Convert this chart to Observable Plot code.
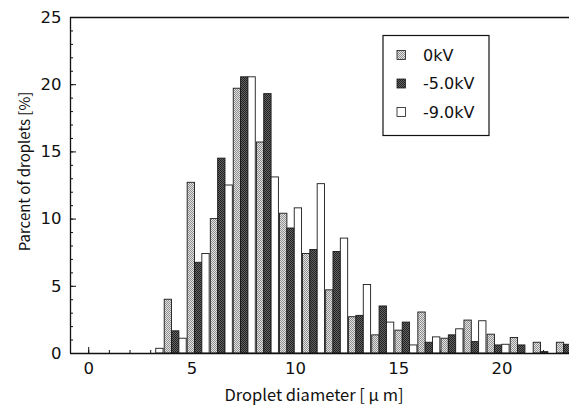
<!DOCTYPE html>
<html><head><meta charset="utf-8">
<script src="https://cdn.jsdelivr.net/npm/d3@7"></script>
<script src="https://cdn.jsdelivr.net/npm/@observablehq/plot@0.6"></script>
<style>
body{margin:0;background:#fff;}
#chart{width:569px;height:405px;}
svg{display:block;}
</style></head><body><div id="chart"></div>
<script>
// Bin centres (droplet diameter, µm) and percentages per applied voltage
const diameters = [3.09, 4.21, 5.32, 6.44, 7.55, 8.67, 9.79, 10.90, 12.02, 13.13, 14.25, 15.37, 16.48, 17.60, 18.71, 19.83, 20.95, 22.06, 23.18];
const kv0 = [0, 4.0, 12.7, 10.0, 19.7, 15.7, 10.4, 7.4, 4.7, 2.7, 1.35, 1.7, 3.05, 1.1, 2.45, 1.4, 1.15, 0.8, 0.8];
const kv5 = [0, 1.65, 6.75, 14.5, 20.55, 19.3, 9.3, 7.7, 7.55, 2.8, 3.5, 2.3, 0.8, 1.35, 0.85, 0.6, 0.6, 0.1, 0.65];
const kv9 = [0.35, 1.1, 7.4, 12.5, 20.55, 13.1, 10.8, 12.6, 8.55, 5.1, 2.3, 0.6, 1.2, 1.8, 2.4, 0.65, 0, 0, 0];
const seriesNames = ["0kV", "-5.0kV", "-9.0kV"];
const xMajorTicks = [0, 5, 10, 15, 20];
const xMinorTicks = d3.range(0, 24);
const yMajorTicks = [0, 5, 10, 15, 20, 25];
const yMinorTicks = d3.range(0, 26);

const W = 569, H = 405, mL = 70, mR = 0, mT = 17, mB = 52;
const frameW = W - mL - mR, frameH = H - mT - mB;
const xDomain = [-0.88, 23.26];
const yDomain = [0, 25];
const barW = 0.355;
const fills = ["url(#pGray)", "url(#pDark)", "#ffffff"];
const seriesValues = [kv0, kv5, kv9];
const rows = seriesValues.map((vals, s) => vals.map((v, k) => ({
  s, v, d: diameters[k],
  x1: diameters[k] - 1.5 * barW + s * barW,
  x2: diameters[k] - 0.5 * barW + s * barW
})));

const textFont = "'Noto Sans CJK JP', 'Noto Sans', sans-serif";
const numFont = "'DejaVu Sans', sans-serif";

const plot = Plot.plot({
  width: W, height: H,
  marginLeft: mL, marginRight: mR, marginTop: mT, marginBottom: mB,
  x: {domain: xDomain},
  y: {domain: yDomain},
  style: {fontFamily: numFont, fontSize: "16.5px", color: "#111", background: "#fff"},
  marks: [
    Plot.tickX(xMinorTicks, {x: d => d, insetTop: frameH - 3, stroke: "#111"}),
    Plot.tickX(xMajorTicks, {x: d => d, insetTop: frameH - 6, stroke: "#111"}),
    Plot.tickY(yMinorTicks, {y: d => d, insetRight: frameW - 3, stroke: "#111"}),
    Plot.tickY(yMajorTicks, {y: d => d, insetRight: frameW - 6, stroke: "#111"}),
    ...rows.map((r, s) => Plot.rect(r, {x1: "x1", x2: "x2", y1: 0, y2: "v", fill: fills[s], stroke: "#1a1a1a", strokeWidth: 0.9, clip: true})),
    Plot.ruleY([yDomain[0]], {stroke: "#111", strokeWidth: 1.3}),
    Plot.ruleY([yDomain[1]], {stroke: "#111", strokeWidth: 1.3}),
    Plot.ruleX([xDomain[0]], {stroke: "#111", strokeWidth: 1.3}),
    Plot.axisX(xMajorTicks, {tickSize: 0, tickPadding: 9, fontSize: 16.5, label: null}),
    Plot.axisY(yMajorTicks, {tickSize: 0, tickPadding: 9, fontSize: 16.5, label: null}),
    Plot.text(["Droplet diameter [ μ m]"], {frameAnchor: "bottom", dx: -6, dy: 42, fontSize: 16.5, fontFamily: textFont, lineAnchor: "middle", textAnchor: "middle"}),
    Plot.text(["Parcent of droplets [%]"], {frameAnchor: "left", dx: -45, dy: -14, rotate: -90, fontSize: 15, fontFamily: textFont, lineAnchor: "middle", textAnchor: "middle"})
  ]
});

const svg = d3.select(plot);
const defs = svg.insert("defs", ":first-child");
const pg = defs.append("pattern").attr("id", "pGray").attr("patternUnits", "userSpaceOnUse").attr("width", 2).attr("height", 2);
pg.append("rect").attr("width", 2).attr("height", 2).attr("fill", "#e4e4e4");
pg.append("rect").attr("width", 1).attr("height", 1).attr("fill", "#8e8e8e");
pg.append("rect").attr("x", 1).attr("y", 1).attr("width", 1).attr("height", 1).attr("fill", "#8e8e8e");
const pd = defs.append("pattern").attr("id", "pDark").attr("patternUnits", "userSpaceOnUse").attr("width", 2).attr("height", 2);
pd.append("rect").attr("width", 2).attr("height", 2).attr("fill", "#646464");
pd.append("rect").attr("width", 1).attr("height", 1).attr("fill", "#222");
pd.append("rect").attr("x", 1).attr("y", 1).attr("width", 1).attr("height", 1).attr("fill", "#222");

// Legend box
const lg = svg.append("g").attr("font-family", numFont).attr("font-size", 16).attr("text-anchor", "start");
lg.append("rect").attr("x", 383).attr("y", 35.5).attr("width", 106).attr("height", 100)
  .attr("fill", "#fff").attr("stroke", "#111").attr("stroke-width", 1.2);
seriesNames.forEach((name, i) => {
  const cy = 55 + i * 28.5;
  lg.append("rect").attr("x", 397).attr("y", cy - 4.5).attr("width", 8.5).attr("height", 9)
    .attr("fill", fills[i]).attr("stroke", "#1a1a1a").attr("stroke-width", 0.8);
  lg.append("text").attr("x", 423).attr("y", cy).attr("dy", "0.35em").attr("fill", "#111").text(name);
});

document.getElementById("chart").appendChild(plot);
</script>
</body></html>
